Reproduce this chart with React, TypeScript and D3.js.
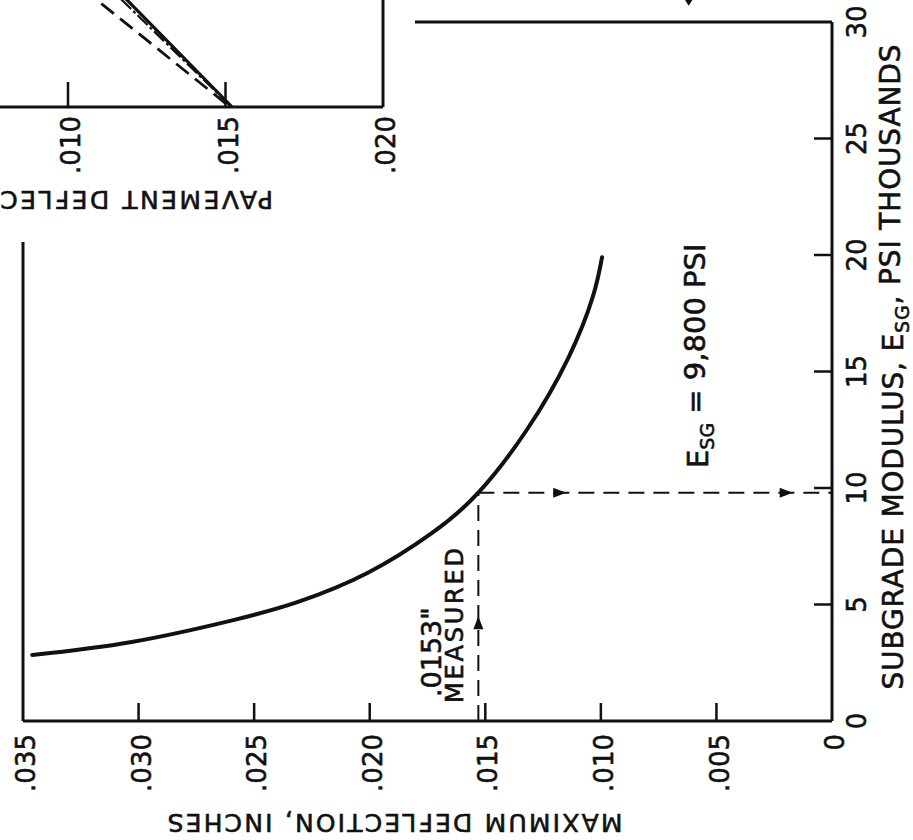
import React from 'react';
import * as d3 from 'd3';

// Main curve: maximum deflection (in) against subgrade modulus (ksi)
const modulusKsi = [2.83, 3.39, 4.33, 5.11, 6.35, 8.07, 9.8, 12.5, 15.6, 18.2, 19.9];
const maxDeflection = [0.0346, 0.0303, 0.0259, 0.0231, 0.0201, 0.0173, 0.0153, 0.0132, 0.0114, 0.01035, 0.00995];

const deflectionTicks = [0.035, 0.03, 0.025, 0.02, 0.015, 0.01, 0.005, 0];
const deflectionTickLabels = ['.035', '.030', '.025', '.020', '.015', '.010', '.005', '0'];
const modulusTicks = [0, 5, 10, 15, 20, 25, 30];
const modulusTickLabels = ['0', '5', '10', '15', '20', '25', '30'];

// Worked example
const measuredDeflection = 0.0153;
const resultModulus = 9.8;
const upArrowModulus = 4.5;
const rightArrowDeflections = [0.0115, 0.0017];
const topArrowDeflection = 0.0062;
const topArrowModulus = 30.7;

// Inset chart (pavement deflection)
const insetTicks = [0.01, 0.015, 0.02];
const insetTickLabels = ['.010', '.015', '.020'];
const insetSolidDefl = [0.01521, 0.01124];
const insetSolidLevel = [0, 11.9];
const insetDashDefl = [0.01502, 0.01011];
const insetDashLevel = [0.3, 11.9];
const insetDashDotDefl = [0.01514, 0.01105];
const insetDashDotLevel = [0.15, 11.9];

const FONT = '"DejaVu Sans", Verdana, sans-serif';
const INK = '#111';
const TEXT_STROKE = { stroke: INK, strokeWidth: 0.6 };

export default function App() {
  const x = d3.scaleLinear().domain([0.035, 0]).range([23, 832]);
  const y = d3.scaleLinear().domain([0, 30]).range([721, 22]);

  const ix = d3.scaleLinear().domain([0.01, 0.02]).range([68, 383]);
  const iy = d3.scaleLinear().domain([0, 10]).range([107, 0]);

  const pts: [number, number][] = modulusKsi.map((m, i) => [x(maxDeflection[i]), y(m)]);
  const curve = d3.line().curve(d3.curveNatural)(pts) as string;

  const insetLine = (defl: number[], lvl: number[]) =>
    d3.line()(defl.map((d, i) => [ix(d), iy(lvl[i])] as [number, number])) as string;

  const arrow = (tx: number, ty: number, dir: 'up' | 'right' | 'down', len = 13, hw = 5) => {
    const p = d3.path();
    if (dir === 'up') {
      p.moveTo(tx, ty); p.lineTo(tx - hw, ty + len); p.lineTo(tx + hw, ty + len);
    } else if (dir === 'right') {
      p.moveTo(tx, ty); p.lineTo(tx - len, ty - hw); p.lineTo(tx - len, ty + hw);
    } else {
      p.moveTo(tx, ty); p.lineTo(tx - hw, ty - len); p.lineTo(tx + hw, ty - len);
    }
    p.closePath();
    return p.toString();
  };

  const mx = x(measuredDeflection);
  const my = y(resultModulus);

  return (
    <svg
      width={913}
      height={840}
      style={{ position: 'absolute', left: 0, top: 0, background: '#fff' }}
      fontFamily={FONT}
    >
      <rect x={0} y={0} width={913} height={840} fill="#fff" />

      {/* Inset: pavement deflection */}
      <g>
        <line x1={0} y1={iy(0)} x2={ix(0.02)} y2={iy(0)} stroke={INK} strokeWidth={3} />
        <line x1={ix(0.02)} y1={0} x2={ix(0.02)} y2={iy(0)} stroke={INK} strokeWidth={3} />
        {insetTicks.slice(0, 2).map((t) => (
          <line key={t} x1={ix(t)} x2={ix(t)} y1={iy(0)} y2={iy(0) - 25} stroke={INK} strokeWidth={2.5} />
        ))}
        <path d={insetLine(insetDashDefl, insetDashLevel)} fill="none" stroke={INK} strokeWidth={2.8} strokeDasharray="16 8" />
        <path d={insetLine(insetDashDotDefl, insetDashDotLevel)} fill="none" stroke={INK} strokeWidth={2.2} strokeDasharray="14 3 3 3" />
        <path d={insetLine(insetSolidDefl, insetSolidLevel)} fill="none" stroke={INK} strokeWidth={3.2} />
        {insetTicks.map((t, i) => (
          <text
            key={t}
            transform={`translate(${ix(t) + 3},116) rotate(-90)`}
            textAnchor="end"
            dy="0.35em"
            fontSize={26}
            fill={INK}
            {...TEXT_STROKE}
          >
            {insetTickLabels[i]}
          </text>
        ))}
        <text
          transform="translate(273,200) rotate(180)"
          textAnchor="start"
          dy="0.35em"
          fontSize={25}
          fill={INK}
          letterSpacing={2.5}
          {...TEXT_STROKE}
        >
          PAVEMENT DEFLECTION
        </text>
      </g>

      {/* Main chart frame */}
      <line x1={23} y1={y(0)} x2={x(0)} y2={y(0)} stroke={INK} strokeWidth={3} />
      <line x1={x(0)} y1={y(0)} x2={x(0)} y2={y(30)} stroke={INK} strokeWidth={3} />
      <line x1={415} y1={y(30)} x2={x(0)} y2={y(30)} stroke={INK} strokeWidth={3} />
      <line x1={x(0.035)} y1={242} x2={x(0.035)} y2={y(0)} stroke={INK} strokeWidth={3} />

      {/* Deflection ticks */}
      {deflectionTicks.slice(1, -1).map((t) => (
        <line key={t} x1={x(t)} x2={x(t)} y1={y(0)} y2={y(0) - 18} stroke={INK} strokeWidth={2.5} />
      ))}
      {deflectionTicks.map((t, i) => (
        <text
          key={t}
          transform={`translate(${x(t) + 3},734) rotate(-90)`}
          textAnchor="end"
          dy="0.35em"
          fontSize={26}
          fill={INK}
          {...TEXT_STROKE}
        >
          {deflectionTickLabels[i]}
        </text>
      ))}

      {/* Modulus ticks */}
      {modulusTicks.slice(1, -1).map((t) => (
        <line key={t} x1={x(0)} x2={x(0) - 18} y1={y(t)} y2={y(t)} stroke={INK} strokeWidth={2.5} />
      ))}
      {modulusTicks.map((t, i) => (
        <text
          key={t}
          transform={`translate(857,${y(t)}) rotate(-90)`}
          textAnchor="middle"
          dy="0.35em"
          fontSize={26}
          fill={INK}
          {...TEXT_STROKE}
        >
          {modulusTickLabels[i]}
        </text>
      ))}

      {/* Axis titles */}
      <text
        transform="translate(395,823) rotate(180)"
        textAnchor="middle"
        dy="0.35em"
        fontSize={25}
        fill={INK}
        textLength={455}
        lengthAdjust="spacing"
        {...TEXT_STROKE}
      >
        MAXIMUM DEFLECTION, INCHES
      </text>
      <text
        transform="translate(893,367) rotate(-90)"
        textAnchor="middle"
        dy="0.35em"
        fontSize={28}
        fill={INK}
        textLength={645}
        lengthAdjust="spacing"
        {...TEXT_STROKE}
      >
        SUBGRADE MODULUS, E<tspan fontSize={19} dy="0.3em">SG</tspan>
        <tspan dy="-0.3em">, PSI THOUSANDS</tspan>
      </text>

      {/* Curve */}
      <path d={curve} fill="none" stroke={INK} strokeWidth={4} strokeLinecap="round" />

      {/* Measured deflection projection */}
      <line x1={mx} y1={y(0)} x2={mx} y2={my} stroke={INK} strokeWidth={2} strokeDasharray="16 9" />
      <line x1={mx} y1={my} x2={x(0)} y2={my} stroke={INK} strokeWidth={2} strokeDasharray="16 9" />
      <path d={arrow(mx, y(upArrowModulus), 'up')} fill={INK} />
      {rightArrowDeflections.map((d) => (
        <path key={d} d={arrow(x(d), my, 'right')} fill={INK} />
      ))}
      <path d={arrow(x(topArrowDeflection), y(topArrowModulus), 'down', 14, 9)} fill={INK} />

      {/* Annotations */}
      <text
        transform="translate(432,697) rotate(-90)"
        textAnchor="start"
        dy="0.35em"
        fontSize={27}
        fill={INK}
        {...TEXT_STROKE}
      >
        .0153"
      </text>
      <text
        transform="translate(455,703) rotate(-90)"
        textAnchor="start"
        dy="0.35em"
        fontSize={24}
        fill={INK}
        textLength={155}
        lengthAdjust="spacing"
        {...TEXT_STROKE}
      >
        MEASURED
      </text>
      <text
        transform="translate(698,468) rotate(-90)"
        textAnchor="start"
        dy="0.35em"
        fontSize={29}
        fill={INK}
        {...TEXT_STROKE}
      >
        E<tspan fontSize={19} dy="0.3em">SG</tspan>
        <tspan dy="-0.3em">{'  =  9,800  PSI'}</tspan>
      </text>
    </svg>
  );
}
